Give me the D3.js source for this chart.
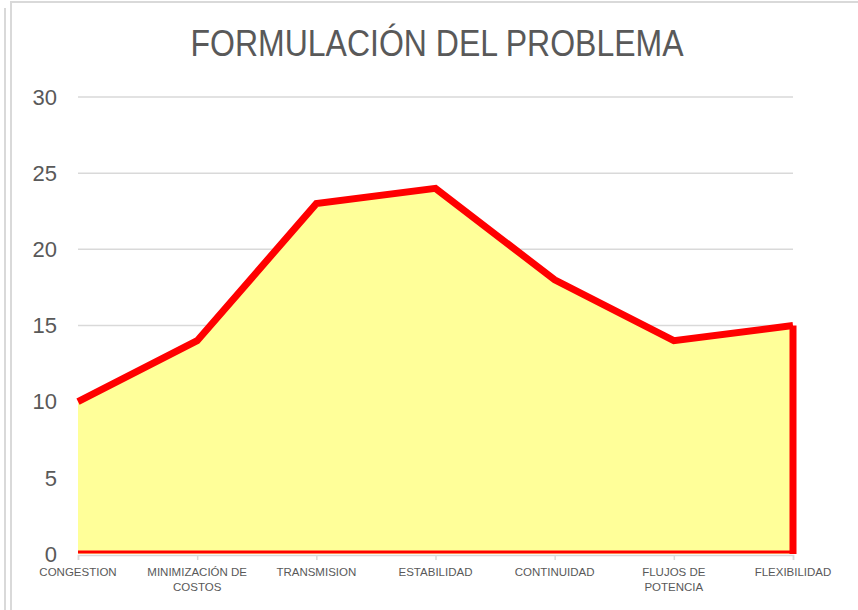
<!DOCTYPE html>
<html>
<head>
<meta charset="utf-8">
<script src="https://cdn.jsdelivr.net/npm/d3@7"></script>
<style>
  body { margin: 0; background: #fff; }
  svg { display: block; font-family: "Liberation Sans", Arial, sans-serif; }
</style>
</head>
<body>
<div id="chart"></div>
<script>
// data
var categories = ["CONGESTION", "MINIMIZACIÓN DE COSTOS", "TRANSMISION", "ESTABILIDAD", "CONTINUIDAD", "FLUJOS DE POTENCIA", "FLEXIBILIDAD"];
var values = [10, 14, 23, 24, 18, 14, 15];
var yTicks = [0, 5, 10, 15, 20, 25, 30];
var title = "FORMULACIÓN DEL PROBLEMA";

var width = 858;
var height = 610;

var svg = d3.select("#chart")
    .append("svg")
    .attr("width", width)
    .attr("height", height);

// outer frame lines
svg.append("line")
    .attr("x1", 5).attr("x2", 5).attr("y1", 8).attr("y2", height)
    .style("stroke", "#d9d9d9").style("stroke-width", 2);
svg.append("path")
    .attr("d", "M11," + height + "V2H" + width)
    .style("fill", "none").style("stroke", "#d9d9d9").style("stroke-width", 2);

var x = d3.scalePoint().domain(categories).range([78, 793]);
var y = d3.scaleLinear().domain([0, 30]).range([554, 97]);

// gridlines
svg.selectAll("line.grid")
    .data(yTicks.filter(function (d) { return d > 0; }))
    .enter()
    .append("line")
    .attr("class", "grid")
    .attr("x1", 78).attr("x2", 793)
    .attr("y1", function (d) { return y(d); })
    .attr("y2", function (d) { return y(d); })
    .style("stroke", "#d9d9d9")
    .style("stroke-width", 1.5);

// y labels
svg.selectAll("text.ylab")
    .data(yTicks)
    .enter()
    .append("text")
    .attr("class", "ylab")
    .attr("x", 57)
    .attr("y", function (d) { return y(d); })
    .attr("dy", "0.35em")
    .attr("text-anchor", "end")
    .style("font-size", "22px")
    .style("fill", "#595959")
    .text(function (d) { return d; });

// area
var area = d3.area()
    .x(function (d, i) { return x(categories[i]); })
    .y0(y(0))
    .y1(function (d) { return y(d); });

svg.append("path")
    .datum(values)
    .attr("d", area)
    .style("fill", "#ffff99");

// x axis
var xAxis = svg.append("g")
    .attr("transform", "translate(0," + (y(0) + 1) + ")")
    .call(d3.axisBottom(x).tickSize(5).tickFormat(""));
xAxis.select(".domain").style("stroke", "#d9d9d9").style("stroke-width", 1.5);
xAxis.selectAll(".tick line").style("stroke", "#d9d9d9").style("stroke-width", 1.5);

// red outline: bottom edge, top line, right edge
var last = categories[categories.length - 1];
svg.append("line")
    .attr("x1", x(categories[0])).attr("x2", x(last))
    .attr("y1", y(0) - 2).attr("y2", y(0) - 2)
    .style("stroke", "#ff0000").style("stroke-width", 3);

svg.append("line")
    .attr("x1", x(last)).attr("x2", x(last))
    .attr("y1", y(values[values.length - 1])).attr("y2", y(0))
    .style("stroke", "#ff0000").style("stroke-width", 7);

var line = d3.line()
    .x(function (d, i) { return x(categories[i]); })
    .y(function (d) { return y(d); });

svg.append("path")
    .datum(values)
    .attr("d", line)
    .style("fill", "none")
    .style("stroke", "#ff0000")
    .style("stroke-width", 7)
    .style("stroke-linejoin", "miter");

// category labels, wrapped on two lines where needed
var labelLines = {
    "MINIMIZACIÓN DE COSTOS": ["MINIMIZACIÓN DE", "COSTOS"],
    "FLUJOS DE POTENCIA": ["FLUJOS DE", "POTENCIA"]
};
var xl = svg.selectAll("text.xlab")
    .data(categories)
    .enter()
    .append("text")
    .attr("class", "xlab")
    .attr("text-anchor", "middle")
    .style("font-size", "11.5px")
    .style("fill", "#595959");

xl.each(function (d) {
    var parts = labelLines[d] || [d];
    var t = d3.select(this);
    parts.forEach(function (p, i) {
        t.append("tspan")
            .attr("x", x(d))
            .attr("y", 576 + i * 15)
            .text(p);
    });
});

// title
svg.append("text")
    .attr("x", 437)
    .attr("y", 56)
    .attr("text-anchor", "middle")
    .attr("textLength", 493)
    .attr("lengthAdjust", "spacingAndGlyphs")
    .style("font-size", "36px")
    .style("fill", "#595959")
    .text(title);
</script>
</body>
</html>
